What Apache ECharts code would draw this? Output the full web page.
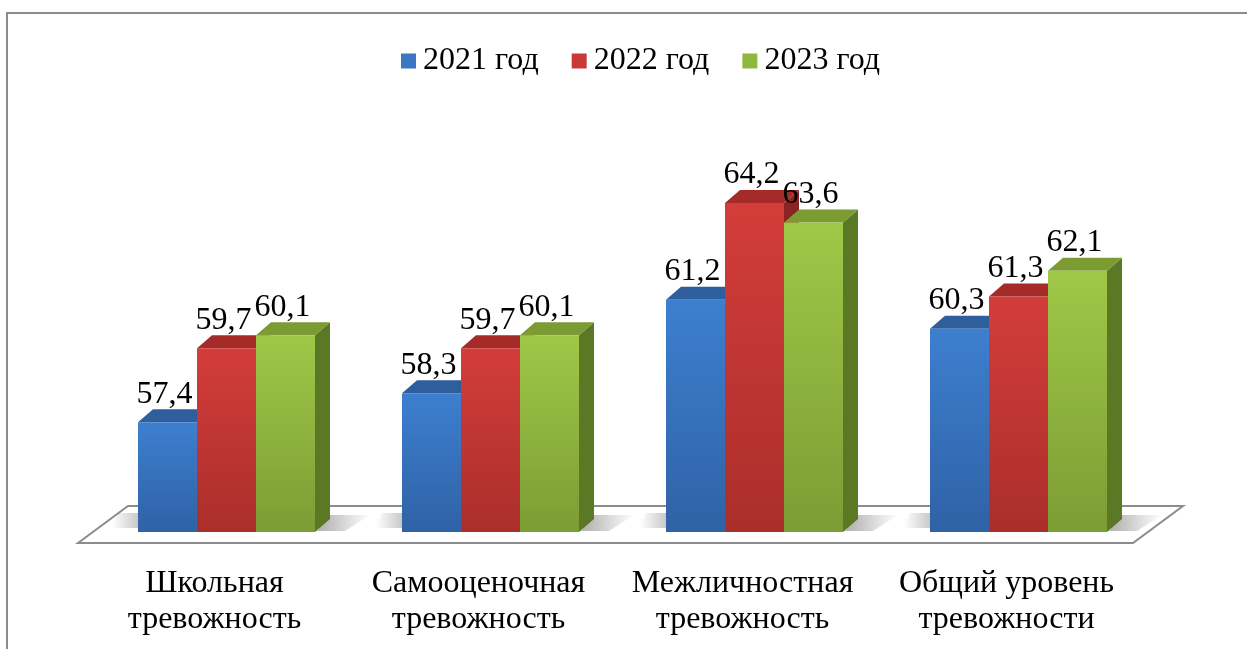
<!DOCTYPE html>
<html>
<head>
<meta charset="utf-8">
<script src="https://cdn.jsdelivr.net/npm/echarts@6/dist/echarts.min.js"></script>
<style>
  html, body { margin: 0; padding: 0; background: #fff; }
  #chart { width: 1247px; height: 649px; }
</style>
</head>
<body>
<div id="chart"></div>
<script>
const categories = ['Школьная\nтревожность', 'Самооценочная\nтревожность', 'Межличностная\nтревожность', 'Общий уровень\nтревожности']
const years = ['2021 год', '2022 год', '2023 год']
const values2021 = [57.4, 58.3, 61.2, 60.3]
const values2022 = [59.7, 59.7, 64.2, 61.3]
const values2023 = [60.1, 60.1, 63.6, 62.1]
const axisMin = 54
const axisMax = 66

const FONT = '"Liberation Serif", "Times New Roman", serif'
const DX = 15
const DY = 13
const BAR_SHARE = 0.2235

const palette = [
  { top: '#2e5e9c', front: ['#3d7fcf', '#2f62a6'], side: '#264f85', legend: '#3a77c4' },
  { top: '#a42b28', front: ['#d33d3a', '#ab2e2b'], side: '#8a2321', legend: '#c83a37' },
  { top: '#7c9c33', front: ['#9fc848', '#7c9c34'], side: '#5b7825', legend: '#8fb83e' },
]

const fmt = v => String(v).replace('.', ',')

function barRenderer(seriesIdx) {
  const c = palette[seriesIdx]
  return function (params, api) {
    const cat = api.value(0)
    const val = api.value(1)
    const band = api.size([1, 0])[0]
    const bw = band * BAR_SHARE
    const center = api.coord([cat, val])
    const base = api.coord([cat, axisMin])
    const xc = center[0] + (seriesIdx - 1) * bw
    const x0 = xc - bw / 2
    const x1 = xc + bw / 2
    const yTop = center[1]
    const yBase = base[1]
    return {
      type: 'group',
      children: [
        {
          type: 'polygon',
          shape: { points: [[x1, yTop], [x1 + DX, yTop - DY], [x1 + DX, yBase - DY], [x1, yBase]] },
          style: { fill: c.side },
        },
        {
          type: 'polygon',
          shape: { points: [[x0, yTop], [x0 + DX, yTop - DY], [x1 + DX, yTop - DY], [x1, yTop]] },
          style: { fill: c.top },
        },
        {
          type: 'rect',
          shape: { x: x0, y: yTop, width: bw, height: yBase - yTop },
          style: {
            fill: new echarts.graphic.LinearGradient(0, 0, 0, 1, [
              { offset: 0, color: c.front[0] },
              { offset: 1, color: c.front[1] },
            ]),
          },
        },
        {
          type: 'text',
          style: {
            text: fmt(val),
            x: xc - 3,
            y: yTop - DY + 1,
            align: 'center',
            verticalAlign: 'bottom',
            fill: '#000',
            font: '32px ' + FONT,
          },
        },
      ],
    }
  }
}

// floor plane plus the soft shadows beside each group of bars
function floorRenderer(params, api) {
  const cs = params.coordSys
  const L = cs.x
  const R = cs.x + cs.width
  const B = cs.y + cs.height
  const children = [{
    type: 'polygon',
    shape: { points: [[L - 16.5, B + 11], [L + 33.5, B - 26], [R + 32.5, B - 26], [R - 17.5, B + 11]] },
    style: { fill: '#fff', stroke: '#8c8c8c', lineWidth: 2 },
  }]
  const band = api.size([1, 0])[0]
  const bw = band * BAR_SHARE
  categories.forEach((_, k) => {
    const p = api.coord([k, axisMin])
    const gx0 = p[0] - 1.5 * bw
    const gx1 = p[0] + 1.5 * bw
    const yb = p[1]
    children.push({
      type: 'polygon',
      shape: { points: [[gx0 - 26, yb - 4], [gx0 - 20, yb - DY - 6], [gx0 + 8, yb - DY - 6], [gx0 + 2, yb - 4]] },
      style: {
        fill: new echarts.graphic.LinearGradient(0, 0, 1, 0, [
          { offset: 0, color: 'rgba(0,0,0,0)' },
          { offset: 1, color: 'rgba(0,0,0,0.28)' },
        ]),
      },
    })
    children.push({
      type: 'polygon',
      shape: { points: [[gx1 + 2, yb - 1], [gx1 + DX, yb - DY - 4], [gx1 + DX + 40, yb - DY - 4], [gx1 + 30, yb - 1]] },
      style: {
        fill: new echarts.graphic.LinearGradient(0, 0, 1, 0, [
          { offset: 0, color: 'rgba(0,0,0,0.32)' },
          { offset: 1, color: 'rgba(0,0,0,0)' },
        ]),
      },
    })
  })
  return { type: 'group', children }
}

const chart = echarts.init(document.getElementById('chart'))

chart.setOption({
  animation: false,
  backgroundColor: '#fff',
  graphic: [{
    type: 'polyline',
    shape: { points: [[7, 800], [7, 13], [1400, 13]] },
    style: { fill: 'none', stroke: '#8c8c8c', lineWidth: 2 },
    z: -1,
  }],
  legend: {
    data: years,
    top: 40,
    left: 396,
    icon: 'rect',
    itemWidth: 15,
    itemHeight: 15,
    itemGap: 33,
    textStyle: { fontSize: 32, fontFamily: FONT, color: '#000', padding: [0, 0, 0, 2] },
  },
  grid: { left: 94.5, right: 96.5, top: 145, bottom: 117, containLabel: false },
  xAxis: {
    type: 'category',
    data: categories,
    axisLine: { show: false },
    axisTick: { show: false },
    axisLabel: {
      fontSize: 32,
      fontFamily: FONT,
      color: '#000',
      lineHeight: 36,
      margin: 34,
      interval: 0,
      padding: [0, 24, 0, 0],
    },
  },
  yAxis: {
    type: 'value',
    min: axisMin,
    max: axisMax,
    show: false,
    splitLine: { show: false },
  },
  series: [
    {
      type: 'custom',
      name: 'floor',
      renderItem: floorRenderer,
      data: [[0, axisMin]],
      silent: true,
      z: 1,
    },
    ...[values2021, values2022, values2023].map((vals, i) => ({
      type: 'custom',
      name: years[i],
      renderItem: barRenderer(i),
      itemStyle: { color: palette[i].legend },
      encode: { x: 0, y: 1 },
      data: vals.map((v, k) => [k, v]),
      z: 2 + i,
    })),
  ],
})
</script>
</body>
</html>
